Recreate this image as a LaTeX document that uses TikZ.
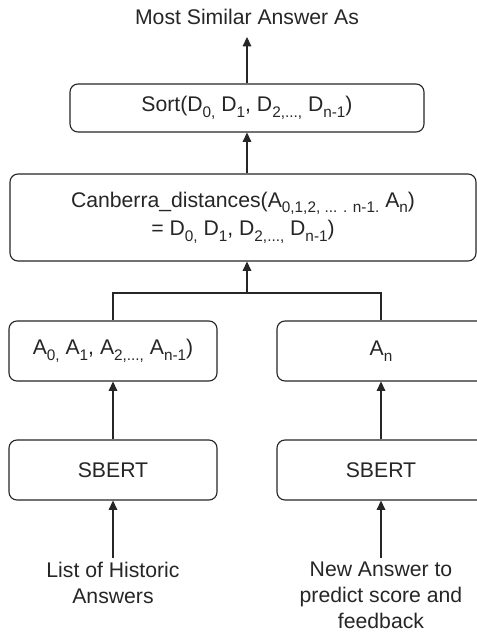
\documentclass[tikz,border=0pt]{standalone}
\usepackage{fontspec}
\setmainfont{Liberation Sans}
\usetikzlibrary{arrows.meta}
\newcommand{\mysub}[1]{\raisebox{-0.5ex}{\fontsize{11.5}{12}\selectfont #1}}
\begin{document}
\begin{tikzpicture}[x=0.75pt,y=-0.75pt,
  every node/.style={font=\fontsize{15.9}{19.5}\selectfont, text=black!85},
  box/.style={draw=black!85, line width=0.85pt, rounded corners=6pt, inner sep=0pt},
  conn/.style={draw=black!85, line width=0.85pt},
  arr/.style={conn, -{Triangle[length=7pt,width=6.5pt]}}]
\useasboundingbox (0,0) rectangle (477,633);
\clip (0,0) rectangle (477,633);
\fill[white] (0,0) rectangle (477,633);

\node[inner sep=0pt] (title) at (247,17) {Most Similar Answer As};
\node[box, minimum width=265.5pt, minimum height=36pt] (sort) at (247,108)
  {Sort(D\mysub{0,} D\mysub{1}, D\mysub{2,...,} D\mysub{n-1})};
\node[box, minimum width=349.5pt, minimum height=65.25pt, align=center] (canb) at (243,217.5)
  {Canberra\_distances(A\mysub{0,1,2, ... . n-1.} A\mysub{n})\\[2pt]
   = D\mysub{0,} D\mysub{1}, D\mysub{2,...,} D\mysub{n-1})};
\node[box, minimum width=156pt, minimum height=45pt] (al) at (113,351)
  {A\mysub{0,} A\mysub{1}, A\mysub{2,...,} A\mysub{n-1})};
\node[box, minimum width=156pt, minimum height=45pt] (ar) at (381,351)
  {A\mysub{n}};
\node[box, minimum width=156pt, minimum height=45pt] (sl) at (113,470) {SBERT};
\node[box, minimum width=156pt, minimum height=45pt] (sr) at (381,470) {SBERT};
\node[inner sep=0pt, anchor=north, align=center] (il) at (113,562)
  {List of Historic\\Answers};
\node[inner sep=0pt, anchor=north, align=center] (ir) at (381,562)
  {New Answer to\\predict score and\\feedback};

\coordinate (jl) at (113,293);
\coordinate (jr) at (381,293);
\coordinate (j) at (247,293);

\draw[arr, shorten >=9pt] (sort.north) -- (title.south);
\draw[arr] (canb.north -| sort.north) -- (sort.south);
\draw[conn] (al.north) -- (jl) -- (jr) -- (ar.north);
\draw[arr] (j) -- (canb.south -| j);
\draw[arr] (sl.north) -- (al.south);
\draw[arr] (sr.north) -- (ar.south);
\draw[arr, shorten <=3pt] (il.north) -- (sl.south);
\draw[arr, shorten <=3pt] (ir.north) -- (sr.south);
\end{tikzpicture}
\end{document}
